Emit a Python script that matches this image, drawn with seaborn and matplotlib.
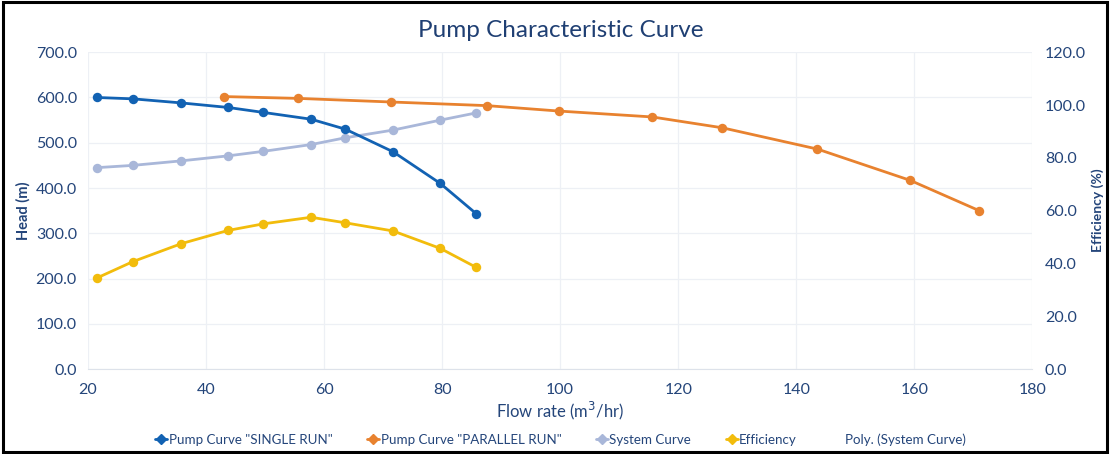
import matplotlib
matplotlib.use("Agg")
import matplotlib.pyplot as plt
import seaborn as sns
from matplotlib.lines import Line2D
from matplotlib.patches import Rectangle

# ---- data ----
flow_single = [21.5, 27.6, 35.8, 43.7, 49.7, 57.8, 63.6, 71.7, 79.7, 85.8]
head_single = [600, 597, 588, 578, 567, 552, 530, 480, 410, 343]
flow_parallel = [43.1, 55.6, 71.4, 87.6, 99.8, 115.6, 127.5, 143.6, 159.3, 171.0]
head_parallel = [602, 598, 590, 582, 570, 557, 533, 486, 417, 350]
system_head = [445, 450, 460, 471, 481, 496, 511, 528, 550, 566]
efficiency = [34.5, 40.7, 47.5, 52.5, 55.0, 57.5, 55.4, 52.3, 45.7, 38.5]

x_ticks = [20, 40, 60, 80, 100, 120, 140, 160, 180]
head_ticks = [0, 100, 200, 300, 400, 500, 600, 700]
eff_ticks = [0, 20, 40, 60, 80, 100, 120]

legend_labels = ['Pump Curve "SINGLE RUN"', 'Pump Curve "PARALLEL RUN"',
                 'System Curve', 'Efficiency', 'Poly. (System Curve)']

# ---- style ----
sns.set_style("white")
plt.rcParams['font.family'] = ['Lato', 'DejaVu Sans']

C_BLUE = "#1262B3"
C_ORANGE = "#E8822F"
C_SYS = "#A9B7D9"
C_YEL = "#F2BC0C"
C_TXT = "#24457A"
C_TITLE = "#1F3F73"
C_GRID = "#EDF0F5"

fig = plt.figure(figsize=(11.10, 4.54), dpi=100)
ax = fig.add_axes([0.0793, 0.187, 0.8507, 0.698])
ax2 = ax.twinx()

lw = 2.0
ms = 6.8
sns.lineplot(x=flow_single, y=head_single, ax=ax, color=C_BLUE, marker='o',
             markersize=ms, markeredgewidth=0, linewidth=lw, sort=False, zorder=5)
sns.lineplot(x=flow_parallel, y=head_parallel, ax=ax, color=C_ORANGE, marker='o',
             markersize=ms, markeredgewidth=0, linewidth=lw, sort=False, zorder=4)
sns.lineplot(x=flow_single, y=system_head, ax=ax, color=C_SYS, marker='o',
             markersize=ms, markeredgewidth=0, linewidth=lw, sort=False, zorder=3)
sns.lineplot(x=flow_single, y=efficiency, ax=ax2, color=C_YEL, marker='o',
             markersize=ms, markeredgewidth=0, linewidth=lw, sort=False, zorder=5)

ax.set_xlim(20, 180)
ax.set_ylim(0, 700)
ax2.set_ylim(0, 120)
ax.set_xticks(x_ticks)
ax.set_yticks(head_ticks)
ax2.set_yticks(eff_ticks)
ax.set_xticklabels([str(v) for v in x_ticks])
ax.set_yticklabels([f"{v:.1f}" for v in head_ticks])
ax2.set_yticklabels([f"{v:.1f}" for v in eff_ticks])

ax.grid(True, color=C_GRID, linewidth=0.9)
ax.set_axisbelow(True)
for a in (ax, ax2):
    for s in a.spines.values():
        s.set_visible(False)
    a.tick_params(length=0, labelsize=11.5, labelcolor=C_TXT)
ax.spines['bottom'].set_visible(True)
ax.spines['bottom'].set_color("#DDE2EA")
ax.tick_params(axis='x', pad=10)
ax.tick_params(axis='y', pad=8)
ax2.tick_params(axis='y', pad=9)

ax.set_xlabel("Flow rate (m$^3$/hr)", fontsize=12, color=C_TXT, labelpad=2)
ax.set_ylabel("Head (m)", fontsize=10.5, color=C_TXT, fontweight='bold', labelpad=4)
ax2.set_ylabel("Efficiency (%)", fontsize=10, color=C_TXT, fontweight='bold',
               rotation=90, labelpad=4)

fig.text(0.505, 0.932, "Pump Characteristic Curve", ha='center', va='center',
         fontsize=17.5, color=C_TITLE)

handles = [
    Line2D([], [], color=C_BLUE, marker='D', markersize=5.5, linewidth=2),
    Line2D([], [], color=C_ORANGE, marker='D', markersize=5.5, linewidth=2),
    Line2D([], [], color=C_SYS, marker='D', markersize=5.5, linewidth=2),
    Line2D([], [], color=C_YEL, marker='D', markersize=5.5, linewidth=2),
    Line2D([], [], color='none', linewidth=0),
]
leg = fig.legend(handles, legend_labels, loc='center', bbox_to_anchor=(0.505, 0.032),
                 ncol=5, frameon=False, fontsize=9.6, handlelength=0.9,
                 handletextpad=0.1, columnspacing=2.6)
for t in leg.get_texts():
    t.set_color(C_TXT)

fig.patches.append(Rectangle((0.003, 0.005), 0.994, 0.99, transform=fig.transFigure,
                             fill=False, edgecolor='black', linewidth=2.2))

fig.savefig("out.png", dpi=100)
